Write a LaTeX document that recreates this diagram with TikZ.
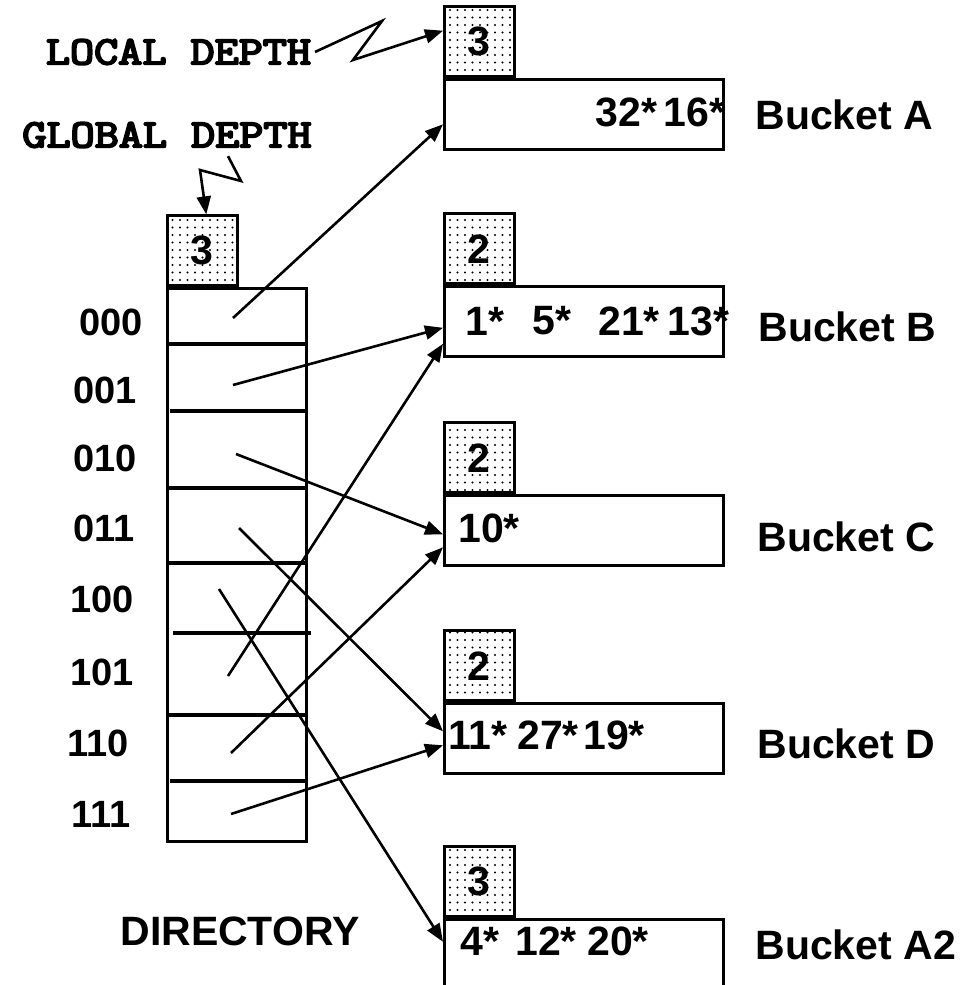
\documentclass[tikz,border=0pt]{standalone}
\usepackage{fontspec}
\setmainfont{Liberation Sans}
\newfontfamily\depthfont[FakeBold=4.5]{Latin Modern Mono}
\usetikzlibrary{arrows.meta,patterns.meta,positioning}

\tikzset{
  depthbox/.style={draw, line width=1.3pt,
    pattern={Dots[distance=3.75pt,radius=0.6pt]},
    minimum width=35pt, minimum height=35pt, inner sep=0pt,
    anchor=south west, font=\fontsize{20.5}{24}\selectfont\bfseries},
  bucketbox/.style={draw, line width=1.3pt, minimum width=139.5pt,
    minimum height=35pt, inner sep=0pt, anchor=north west},
  entry/.style={anchor=west, inner sep=0pt,
    font=\fontsize{20.5}{24}\selectfont\bfseries},
  bucketname/.style={anchor=west, inner sep=0pt,
    font=\fontsize{20.5}{24}\selectfont\bfseries},
  slot/.style={inner sep=0pt, font=\fontsize{19}{22}\selectfont\bfseries},
  depthlabel/.style={inner sep=1.5pt, xscale=1.17,
    font=\fontsize{20}{24}\selectfont\depthfont},
  divider/.style={line width=1.8pt},
  ptr/.style={line width=1.3pt, -{Triangle[length=9pt,width=7pt]}},
}

\begin{document}
\begin{tikzpicture}[x=0.5pt,y=-0.5pt]
    \useasboundingbox (0,0) rectangle (963,985);
    % directory
    \node[draw, line width=1.3pt, minimum width=69.5pt, minimum height=276.5pt,
        inner sep=0pt, anchor=north west] (dir) at (166,287) {};
    \node[depthbox] (gD) at (dir.north west) {3};
    \draw[divider] (166,344) -- (305,344);
    \draw[divider] (170,411) -- (305,411);
    \draw[divider] (166,488) -- (305,488);
    \draw[divider] (166,563) -- (305,563);
    \draw[divider] (173,633) -- (311,633);
    \draw[divider] (166,715) -- (305,715);
    \draw[divider] (170,781) -- (306,781);
    \node[slot] (s000) at (111,322) {000};
    \node[slot] (s001) at (105,390) {001};
    \node[slot] (s010) at (105,458) {010};
    \node[slot] (s011) at (104,528) {011};
    \node[slot] (s100) at (102,599) {100};
    \node[slot] (s101) at (102,672) {101};
    \node[slot] (s110) at (98,743) {110};
    \node[slot] (s111) at (101,814) {111};
    \node[bucketname, anchor=center] (dname) at (240,931) {DIRECTORY};
    \coordinate (p000) at (233,318);
    \coordinate (p001) at (233,385);
    \coordinate (p010) at (236,454);
    \coordinate (p011) at (239,528);
    \coordinate (p100) at (219,589);
    \coordinate (p101) at (228,676);
    \coordinate (p110) at (231,753);
    \coordinate (p111) at (231,814);
    % buckets
    \node[bucketbox] (bA) at (443,78) {};
    \node[depthbox] (lA) at (bA.north west) {3};
    \node[bucketbox] (bB) at (443,285) {};
    \node[depthbox] (lB) at (bB.north west) {2};
    \node[bucketbox] (bC) at (443,494) {};
    \node[depthbox] (lC) at (bC.north west) {2};
    \node[bucketbox] (bD) at (443,702) {};
    \node[depthbox] (lD) at (bD.north west) {2};
    \node[bucketbox] (bA2) at (443,918) {};
    \node[depthbox] (lA2) at (bA2.north west) {3};
    \node[entry] (eA1) at (595,112) {32*};
    \node[entry] (eA2) at (663,112) {16*};
    \node[entry] (eB1) at (465,321) {1*};
    \node[entry] (eB2) at (532,321) {5*};
    \node[entry] (eB3) at (598,321) {21*};
    \node[entry] (eB4) at (667,321) {13*};
    \node[entry] (eC1) at (458,528) {10*};
    \node[entry] (eD1) at (448,735) {11*};
    \node[entry] (eD2) at (517,735) {27*};
    \node[entry] (eD3) at (583,735) {19*};
    \node[entry] (eA21) at (460,941) {4*};
    \node[entry] (eA22) at (515,941) {12*};
    \node[entry] (eA23) at (587,941) {20*};
    \node[bucketname] (nA) at (755,115) {Bucket A};
    \node[bucketname] (nB) at (758,327) {Bucket B};
    \node[bucketname] (nC) at (757,537) {Bucket C};
    \node[bucketname] (nD) at (757,744) {Bucket D};
    \node[bucketname] (nA2) at (755,945) {Bucket A2};
    % pointers
    \draw[ptr] (p000) -- ([yshift=-5pt]bA.west);
    \draw[ptr] (p001) -- ([yshift=-3.25pt]bB.west);
    \draw[ptr] (p010) -- ([yshift=-2pt]bC.west);
    \draw[ptr] (p011) -- ([yshift=3.5pt]bD.west);
    \draw[ptr] (p100) -- ([yshift=6.25pt]bA2.west);
    \draw[ptr] (p101) -- ([yshift=-11.25pt]bB.west);
    \draw[ptr] (p110) -- ([yshift=-8.5pt]bC.west);
    \draw[ptr] (p111) -- ([yshift=-3.5pt]bD.west);
    % depth labels
    \node[depthlabel, anchor=east] (ltxt) at (315,52) {LOCAL DEPTH};
    \draw[ptr] (ltxt.east) -- (382,21) -- (353,60) -- ([yshift=5.5pt]lA.west);
    \node[depthlabel] (gtxt) at (167,135) {GLOBAL DEPTH};
    \draw[ptr] ([xshift=30.5pt,yshift=-2.5pt]gtxt.south) -- (241,181) -- (200,170)
        -- ([xshift=2pt]gD.north);
\end{tikzpicture}
\end{document}
